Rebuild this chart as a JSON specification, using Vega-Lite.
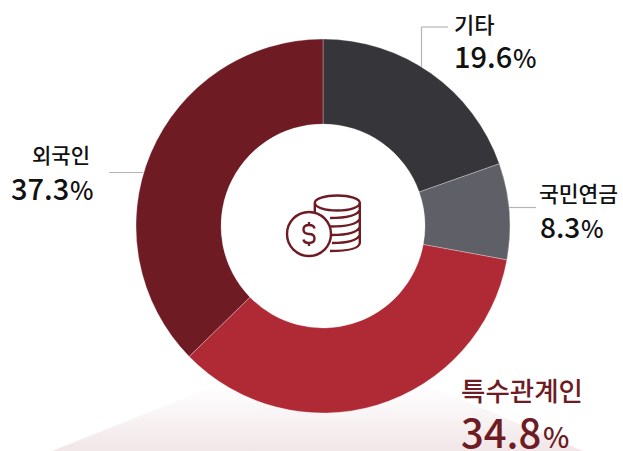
{"$schema":"https://vega.github.io/schema/vega-lite/v6.json","width":623,"height":451,"padding":0,"autosize":{"type":"none"},"background":"#ffffff","config":{"view":{"stroke":null}},
"data":{"values":[{"cat":"기타","value":19.6,"ord":1},{"cat":"국민연금","value":8.3,"ord":2},{"cat":"특수관계인","value":34.8,"ord":3},{"cat":"외국인","value":37.3,"ord":4}]},
"layer":[
{"data":{"values":[{"shape":"band"}]},"mark":{"type":"point","filled":true,"opacity":1,"strokeWidth":0,"size":360000,"shape":"M -0.885 0.103 L -0.342 -0.113 L 0.375 -0.113 L 0.885 0.103 Z","fill":{"gradient":"linear","x1":0,"y1":0,"x2":0,"y2":1,"stops":[{"offset":0,"color":"#ffffff"},{"offset":1,"color":"#f1e6e8"}]}},"encoding":{"x":{"value":317.5},"y":{"value":420}}},
{"data":{"values":[{"shape":"lead"}]},"mark":{"type":"rule","stroke":"#b4b4b4","strokeWidth":1.2},"encoding":{"x":{"value":109},"x2":{"value":143},"y":{"value":172.5},"y2":{"value":172.5}}},
{"data":{"values":[{"shape":"lead"}]},"mark":{"type":"rule","stroke":"#b4b4b4","strokeWidth":1.2},"encoding":{"x":{"value":508},"x2":{"value":536},"y":{"value":207.5},"y2":{"value":207.5}}},
{"data":{"values":[{"shape":"lead"}]},"mark":{"type":"rule","stroke":"#b4b4b4","strokeWidth":1.2},"encoding":{"x":{"value":421.5},"x2":{"value":448},"y":{"value":27},"y2":{"value":27}}},
{"data":{"values":[{"shape":"lead"}]},"mark":{"type":"rule","stroke":"#b4b4b4","strokeWidth":1.2},"encoding":{"x":{"value":421.5},"x2":{"value":421.5},"y":{"value":27},"y2":{"value":70}}},
{"mark":{"type":"arc","innerRadius":102,"outerRadius":187,"stroke":"#ffffff","strokeWidth":0.3},"encoding":{"theta":{"field":"value","type":"quantitative","stack":true,"scale":{"domain":[0,100]}},"order":{"field":"ord","type":"ordinal"},"color":{"field":"cat","type":"nominal","legend":null,"scale":{"domain":["기타","국민연금","특수관계인","외국인"],"range":["#35353a","#5f5f67","#b02a35","#6e1b24"]}},"x":{"value":323},"y":{"value":226}}},
{"data":{"values":[{"shape":"icon"}]},"mark":{"type":"point","filled":false,"opacity":1,"stroke":"#6e1b24","strokeWidth":2.4,"size":40000,"shape":"M -0.36 0.08 A 0.22 0.22 0 1 1 0.08 0.08 A 0.22 0.22 0 1 1 -0.36 0.08 M -0.082 -0.23 A 0.225 0.075 0 1 1 0.368 -0.23 A 0.225 0.075 0 1 1 -0.082 -0.23 M -0.082 -0.23 L -0.082 -0.14 M 0.368 -0.23 L 0.368 0.17 Q 0.36 0.25 0.07 0.25 M 0.07 -0.08 Q 0.33 -0.08 0.368 -0.16 M 0.07 0.005 Q 0.33 0.005 0.368 -0.07 M 0.09 0.09 Q 0.33 0.09 0.368 0.01 M 0.09 0.17 Q 0.33 0.17 0.368 0.09 M -0.085 0.025 Q -0.09 -0.01 -0.14 -0.01 Q -0.195 -0.01 -0.195 0.035 Q -0.195 0.08 -0.14 0.08 Q -0.085 0.08 -0.085 0.125 Q -0.085 0.17 -0.14 0.17 Q -0.19 0.17 -0.195 0.135 M -0.14 -0.04 L -0.14 -0.01 M -0.14 0.17 L -0.14 0.2"},"encoding":{"x":{"value":323},"y":{"value":226}}},
{"transform":[{"filter":"datum.cat=='기타'"}],"layer":[
{"mark":{"type":"text","align":"left","baseline":"alphabetic","font":"Noto Sans CJK KR","fontWeight":500,"fontSize":22,"fill":"#111111"},"encoding":{"text":{"field":"cat"},"x":{"value":454},"y":{"value":33}}},
{"mark":{"type":"text","align":"left","baseline":"alphabetic","font":"Noto Sans CJK KR","fontWeight":500,"fontSize":29,"fill":"#111111"},"encoding":{"text":{"field":"value","type":"quantitative","format":".1f"},"x":{"value":454},"y":{"value":68}}},
{"mark":{"type":"text","align":"left","baseline":"alphabetic","font":"Noto Sans CJK KR","fontWeight":500,"fontSize":25,"fill":"#111111","text":"%"},"encoding":{"x":{"value":513},"y":{"value":68}}}]},
{"transform":[{"filter":"datum.cat=='국민연금'"}],"layer":[
{"mark":{"type":"text","align":"left","baseline":"alphabetic","font":"Noto Sans CJK KR","fontWeight":500,"fontSize":21.5,"fill":"#111111"},"encoding":{"text":{"field":"cat"},"x":{"value":539},"y":{"value":202}}},
{"mark":{"type":"text","align":"left","baseline":"alphabetic","font":"Noto Sans CJK KR","fontWeight":500,"fontSize":28,"fill":"#111111"},"encoding":{"text":{"field":"value","type":"quantitative","format":".1f"},"x":{"value":540},"y":{"value":238}}},
{"mark":{"type":"text","align":"left","baseline":"alphabetic","font":"Noto Sans CJK KR","fontWeight":500,"fontSize":24,"fill":"#111111","text":"%"},"encoding":{"x":{"value":581},"y":{"value":238}}}]},
{"transform":[{"filter":"datum.cat=='특수관계인'"}],"layer":[
{"mark":{"type":"text","align":"left","baseline":"alphabetic","font":"Noto Sans CJK KR","fontWeight":500,"fontSize":26.5,"fill":"#6e1b24"},"encoding":{"text":{"field":"cat"},"x":{"value":461},"y":{"value":401}}},
{"mark":{"type":"text","align":"left","baseline":"alphabetic","font":"Noto Sans CJK KR","fontWeight":500,"fontSize":40,"fill":"#6e1b24"},"encoding":{"text":{"field":"value","type":"quantitative","format":".1f"},"x":{"value":461},"y":{"value":448}}},
{"mark":{"type":"text","align":"left","baseline":"alphabetic","font":"Noto Sans CJK KR","fontWeight":500,"fontSize":28,"fill":"#6e1b24","text":"%"},"encoding":{"x":{"value":543},"y":{"value":448}}}]},
{"transform":[{"filter":"datum.cat=='외국인'"}],"layer":[
{"mark":{"type":"text","align":"left","baseline":"alphabetic","font":"Noto Sans CJK KR","fontWeight":500,"fontSize":21,"fill":"#111111"},"encoding":{"text":{"field":"cat"},"x":{"value":32},"y":{"value":163}}},
{"mark":{"type":"text","align":"left","baseline":"alphabetic","font":"Noto Sans CJK KR","fontWeight":500,"fontSize":29,"fill":"#111111"},"encoding":{"text":{"field":"value","type":"quantitative","format":".1f"},"x":{"value":11},"y":{"value":200}}},
{"mark":{"type":"text","align":"left","baseline":"alphabetic","font":"Noto Sans CJK KR","fontWeight":500,"fontSize":25,"fill":"#111111","text":"%"},"encoding":{"x":{"value":70},"y":{"value":200}}}]}
]}
